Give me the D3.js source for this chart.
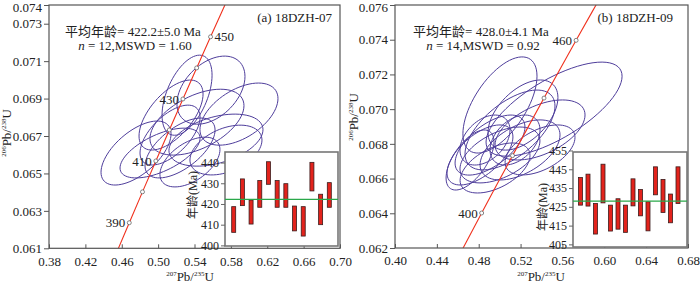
<!DOCTYPE html>
<html>
<head>
<meta charset="utf-8">
<script src="https://cdn.jsdelivr.net/npm/d3@7"></script>
<style>
body{margin:0;background:#fff}
svg{display:block}
text{font-family:"Liberation Serif","Noto Sans CJK SC",serif;fill:#222}
</style>
</head>
<body>
<div id="chart"></div>
<script>
// concordia reference points: age (Ma), 207Pb/235U, 206Pb/238U
const concAges = [370, 380, 390, 400, 410, 420, 430, 440, 450, 460, 470, 480];
const concX = [0.43964, 0.45389, 0.46828, 0.48281, 0.49749, 0.51231, 0.52728, 0.54239, 0.55766, 0.57307, 0.58864, 0.60437];
const concY = [0.059076, 0.060720, 0.062366, 0.064016, 0.065667, 0.067322, 0.068979, 0.070638, 0.072301, 0.073965, 0.075632, 0.077302];

// (a) 18DZH-07 error ellipses: centre, half extent in x / y, correlation
const ellA_x   = [0.5318, 0.5581, 0.5889, 0.5142, 0.5427, 0.5636, 0.4757, 0.5021, 0.5241, 0.5350, 0.5746, 0.5131];
const ellA_y   = [0.06918, 0.06945, 0.06817, 0.06812, 0.06774, 0.06678, 0.06609, 0.06609, 0.06636, 0.06561, 0.06625, 0.06705];
const ellA_sx  = [0.0275, 0.0374, 0.0429, 0.0352, 0.0517, 0.0517, 0.0385, 0.0440, 0.0385, 0.0330, 0.0396, 0.0330];
const ellA_sy  = [0.00214, 0.00182, 0.00166, 0.00187, 0.00176, 0.00139, 0.00171, 0.00133, 0.00160, 0.00133, 0.00133, 0.00160];
const ellA_rho = [0.5, 0.4, 0.5, 0.6, 0.5, 0.4, 0.6, 0.6, 0.6, 0.5, 0.4, 0.6];
// (a) single-grain ages (Ma), low / high of the error bar
const ageA_lo = [406.3, 419.2, 410.3, 418.4, 429.5, 418.4, 418.4, 407.0, 404.5, 426.3, 410.0, 418.4];
const ageA_hi = [418.7, 432.1, 421.9, 431.3, 440.4, 431.3, 429.8, 419.0, 418.7, 440.1, 424.7, 430.3];
const meanA = 422.2;

// (b) 18DZH-09 error ellipses
const ellB_x   = [0.5003, 0.5520, 0.5223, 0.5099, 0.5386, 0.4908, 0.4812, 0.4717, 0.5003, 0.5195, 0.5386, 0.4956, 0.4860, 0.5147];
const ellB_y   = [0.07024, 0.07000, 0.06966, 0.06880, 0.06880, 0.06793, 0.06736, 0.06707, 0.06736, 0.06765, 0.06765, 0.06661, 0.06822, 0.06822];
const ellB_sx  = [0.0354, 0.0650, 0.0334, 0.0430, 0.0430, 0.0334, 0.0315, 0.0229, 0.0382, 0.0382, 0.0334, 0.0334, 0.0239, 0.0239];
const ellB_sy  = [0.00277, 0.00271, 0.00202, 0.00230, 0.00173, 0.00173, 0.00173, 0.00173, 0.00161, 0.00173, 0.00144, 0.00144, 0.00144, 0.00144];
const ellB_rho = [0.6, 0.7, 0.5, 0.6, 0.5, 0.6, 0.6, 0.6, 0.5, 0.5, 0.5, 0.5, 0.4, 0.4];
const ageB_lo = [425.9, 425.4, 410.5, 427.1, 412.1, 413.1, 411.4, 425.5, 420.2, 412.2, 431.4, 422.0, 416.5, 426.8];
const ageB_hi = [440.6, 442.4, 426.8, 447.7, 425.9, 429.3, 425.9, 439.9, 434.2, 427.7, 446.3, 439.6, 431.8, 446.3];
const meanB = 428.0;

// tick labels
const xTicksA = [0.38, 0.42, 0.46, 0.50, 0.54, 0.58, 0.62, 0.66, 0.70];
const yTicksA = [0.061, 0.063, 0.065, 0.067, 0.069, 0.071, 0.073, 0.074];
const xTicksB = [0.40, 0.44, 0.48, 0.52, 0.56, 0.60, 0.64, 0.68];
const yTicksB = [0.062, 0.064, 0.066, 0.068, 0.070, 0.072, 0.074, 0.076];
const insetTicksA = [400, 410, 420, 430, 440];
const insetTicksB = [405, 415, 425, 435, 445, 455];

const panels = [
  {
    id: "a", xDomain: [0.38, 0.70], yDomain: [0.061, 0.074],
    xRange: [49, 340], yRange: [248.3, 5],
    xTicks: xTicksA, yTicks: yTicksA,
    ex: ellA_x, ey: ellA_y, esx: ellA_sx, esy: ellA_sy, erho: ellA_rho,
    markAges: [390, 400, 410, 420, 430, 440, 450], labelAges: [390, 410, 430, 450], rightLabels: [450],
    lo: ageA_lo, hi: ageA_hi, mean: meanA,
    inset: {x0: 225, x1: 338, y0: 152, y1: 246, xDomain: [0, 13], yDomain: [399.7, 445.1], ticks: insetTicksA, titleX: 193, titleY: 195},
    title: "(a) 18DZH-07", titleX: 332,
    line1: "平均年龄= 422.2±5.0 Ma", n: "12", mswd: "1.60", textX: 133,
    yTitleX: 11, yTitleY: 133, xTitleX: 190
  },
  {
    id: "b", xDomain: [0.40, 0.68], yDomain: [0.062, 0.076],
    xRange: [395, 688], yRange: [248, 5],
    xTicks: xTicksB, yTicks: yTicksB,
    ex: ellB_x, ey: ellB_y, esx: ellB_sx, esy: ellB_sy, erho: ellB_rho,
    markAges: [400, 420, 440, 460], labelAges: [400, 460], rightLabels: [],
    lo: ageB_lo, hi: ageB_hi, mean: meanB,
    inset: {x0: 573, x1: 687, y0: 152, y1: 247, xDomain: [0, 15.2], yDomain: [403.6, 454.2], ticks: insetTicksB, titleX: 543, titleY: 207},
    title: "(b) 18DZH-09", titleX: 673,
    line1: "平均年龄= 428.0±4.1 Ma", n: "14", mswd: "0.92", textX: 481,
    yTitleX: 358, yTitleY: 117, xTitleX: 541
  }
];

const svg = d3.select("#chart").append("svg").attr("width", 700).attr("height", 283);

function drawPanel(p) {
  const x = d3.scaleLinear().domain(p.xDomain).range(p.xRange);
  const y = d3.scaleLinear().domain(p.yDomain).range(p.yRange);
  const g = svg.append("g");

  g.append("clipPath").attr("id", "clip-" + p.id).append("rect")
    .attr("x", p.xRange[0]).attr("y", p.yRange[1])
    .attr("width", p.xRange[1] - p.xRange[0]).attr("height", p.yRange[0] - p.yRange[1]);
  const plot = g.append("g").attr("clip-path", "url(#clip-" + p.id + ")");

  // error ellipses
  const ells = p.ex.map((cx, i) => ({cx: cx, cy: p.ey[i], sx: p.esx[i], sy: p.esy[i], rho: p.erho[i]}));
  const angles = d3.range(0, 361, 5).map(a => a * Math.PI / 180);
  plot.selectAll("path.ell").data(ells).enter().append("path")
    .attr("class", "ell")
    .attr("d", e => d3.line()(angles.map(t => [
      x(e.cx + e.sx * Math.cos(t)),
      y(e.cy + e.sy * (e.rho * Math.cos(t) + Math.sqrt(1 - e.rho * e.rho) * Math.sin(t)))
    ])) + "Z")
    .attr("fill", "none").attr("stroke", "#4e3d9b").attr("stroke-width", 1);

  // concordia
  const conc = concAges.map((a, i) => ({age: a, x: concX[i], y: concY[i]}));
  plot.append("path").datum(conc)
    .attr("d", d3.line().x(d => x(d.x)).y(d => y(d.y)).curve(d3.curveCatmullRom))
    .attr("fill", "none").attr("stroke", "#f0321e").attr("stroke-width", 1.1);

  const marks = conc.filter(d => p.markAges.includes(d.age));
  plot.selectAll("circle.mk").data(marks).enter().append("circle")
    .attr("class", "mk")
    .attr("cx", d => x(d.x)).attr("cy", d => y(d.y)).attr("r", 2)
    .attr("fill", "#fff").attr("stroke", "#666").attr("stroke-width", 0.8);

  g.selectAll("text.mk").data(conc.filter(d => p.labelAges.includes(d.age))).enter().append("text")
    .attr("class", "mk")
    .attr("x", d => x(d.x) + (p.rightLabels.includes(d.age) ? 4 : -4))
    .attr("y", d => y(d.y)).attr("dy", "0.35em")
    .attr("text-anchor", d => p.rightLabels.includes(d.age) ? "start" : "end")
    .attr("font-size", 13).text(d => d.age);

  // frame
  g.append("rect")
    .attr("x", p.xRange[0]).attr("y", p.yRange[1])
    .attr("width", p.xRange[1] - p.xRange[0]).attr("height", p.yRange[0] - p.yRange[1])
    .attr("fill", "none").attr("stroke", "#555").attr("stroke-width", 1.2);

  // axes
  const xa = g.append("g").attr("transform", "translate(0," + p.yRange[0] + ")")
    .call(d3.axisBottom(x).tickValues(p.xTicks).tickFormat(d3.format(".2f")).tickSizeInner(-4).tickSizeOuter(0).tickPadding(8));
  const ya = g.append("g").attr("transform", "translate(" + p.xRange[0] + ",0)")
    .call(d3.axisLeft(y).tickValues(p.yTicks).tickFormat(d3.format(".3f")).tickSizeInner(5).tickSizeOuter(0).tickPadding(2));
  [xa, ya].forEach(a => {
    a.select(".domain").remove();
    a.selectAll("line").attr("stroke", "#555");
    a.selectAll("text").attr("font-size", 13).attr("font-family", "Liberation Serif").attr("fill", "#222");
  });
  // keep the top y label inside the picture
  ya.selectAll(".tick text").filter(d => d === p.yDomain[1]).attr("dy", "0.5em");

  // axis titles
  const yt = g.append("text")
    .attr("transform", "translate(" + p.yTitleX + "," + p.yTitleY + ") rotate(-90)")
    .attr("text-anchor", "middle").attr("font-size", 13);
  yt.append("tspan").attr("font-size", 7).attr("dy", -5).text("206");
  yt.append("tspan").attr("dy", 5).text("Pb/");
  yt.append("tspan").attr("font-size", 7).attr("dy", -5).text("238");
  yt.append("tspan").attr("dy", 5).text("U");

  const xt = g.append("text")
    .attr("x", p.xTitleX).attr("y", 281)
    .attr("text-anchor", "middle").attr("font-size", 13);
  xt.append("tspan").attr("font-size", 7).attr("dy", -5).text("207");
  xt.append("tspan").attr("dy", 5).text("Pb/");
  xt.append("tspan").attr("font-size", 7).attr("dy", -5).text("235");
  xt.append("tspan").attr("dy", 5).text("U");

  // annotations
  g.append("text").attr("x", p.titleX).attr("y", 21.5).attr("text-anchor", "end")
    .attr("font-size", 13).text(p.title);
  g.append("text").attr("x", p.textX).attr("y", 35.5).attr("text-anchor", "middle")
    .attr("font-size", 13).text(p.line1);
  const l2 = g.append("text").attr("x", p.textX + 2).attr("y", 49.5).attr("text-anchor", "middle")
    .attr("font-size", 13);
  l2.append("tspan").attr("font-style", "italic").text("n");
  l2.append("tspan").text(" = " + p.n + ",MSWD = " + p.mswd);

  // inset: single-grain ages
  const ins = p.inset;
  const ix = d3.scaleLinear().domain(ins.xDomain).range([ins.x0, ins.x1]);
  const iy = d3.scaleLinear().domain(ins.yDomain).range([ins.y1, ins.y0]);
  const ig = g.append("g");
  ig.append("rect").attr("x", ins.x0).attr("y", ins.y0)
    .attr("width", ins.x1 - ins.x0).attr("height", ins.y1 - ins.y0)
    .attr("fill", "#fff").attr("stroke", "#777").attr("stroke-width", 1.6);

  const bars = p.lo.map((lo, i) => ({i: i + 1, lo: lo, hi: p.hi[i]}));
  ig.selectAll("rect.bar").data(bars).enter().append("rect")
    .attr("class", "bar")
    .attr("x", d => ix(d.i) - 2).attr("width", 4)
    .attr("y", d => iy(d.hi)).attr("height", d => iy(d.lo) - iy(d.hi))
    .attr("fill", "#e3231c").attr("stroke", "#3a1c1c").attr("stroke-width", 0.8);

  ig.append("line")
    .attr("x1", ins.x0).attr("x2", ins.x1)
    .attr("y1", iy(p.mean)).attr("y2", iy(p.mean))
    .attr("stroke", "#2aa84a").attr("stroke-width", 1.3);

  const ia = ig.append("g").attr("transform", "translate(" + ins.x0 + ",0)")
    .call(d3.axisLeft(iy).tickValues(ins.ticks).tickSizeInner(4).tickSizeOuter(0).tickPadding(2));
  ia.select(".domain").remove();
  ia.selectAll("line").attr("stroke", "#666");
  ia.selectAll("text").attr("font-size", 12).attr("font-family", "Liberation Serif").attr("fill", "#555");

  ig.append("text")
    .attr("transform", "translate(" + ins.titleX + "," + ins.titleY + ") rotate(-90)")
    .attr("text-anchor", "middle").attr("dy", "0.35em").attr("font-size", 12).attr("fill", "#555")
    .text("年龄(Ma)");
}

panels.forEach(drawPanel);
</script>
</body>
</html>
